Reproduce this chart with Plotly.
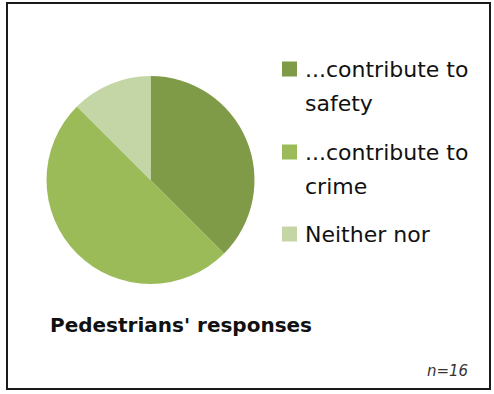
import plotly.graph_objects as go

# Survey answers (n = 16)
labels = ["...contribute to safety", "...contribute to crime", "Neither nor"]
legend_lines = [["...contribute to", "safety"], ["...contribute to", "crime"], ["Neither nor"]]
counts = [6, 8, 2]
colors = ["#7f9b48", "#9bbb59", "#c4d6a6"]
title_text = "Pedestrians' responses"
sample_note = "n=16"

W, H = 494, 394
FONT = "DejaVu Sans, sans-serif"

def px(x):
    return x / W

def py(y):
    return 1 - y / H

fig = go.Figure()
fig.add_trace(go.Pie(
    labels=labels,
    values=counts,
    sort=False,
    direction="clockwise",
    rotation=0,
    marker=dict(colors=colors, line=dict(width=0)),
    textinfo="none",
    hoverinfo="label+value+percent",
    showlegend=False,
    domain=dict(x=[px(46), px(255)], y=[py(284), py(76)]),
))

shapes = [dict(type="rect", xref="paper", yref="paper",
               x0=px(7), x1=px(490), y0=py(389), y1=py(3),
               line=dict(color="#1a1a1a", width=2), fillcolor="rgba(0,0,0,0)")]
annotations = []

# Hand-placed legend: colour square + wrapped label lines
item_tops = [69, 152, 234]
line_gap = 34
for lines, col, y0 in zip(legend_lines, colors, item_tops):
    shapes.append(dict(type="rect", xref="paper", yref="paper",
                       x0=px(282), x1=px(297), y0=py(y0 + 7.5), y1=py(y0 - 7.5),
                       fillcolor=col, line=dict(width=0)))
    for i, ln in enumerate(lines):
        annotations.append(dict(x=px(303), y=py(y0 + i * line_gap), xref="paper", yref="paper",
                                text=ln, showarrow=False, xanchor="left", yanchor="middle",
                                font=dict(family=FONT, size=22, color="#111111")))

annotations.append(dict(x=px(48), y=py(325), xref="paper", yref="paper",
                        text="<b>" + title_text + "</b>", showarrow=False,
                        xanchor="left", yanchor="middle",
                        font=dict(family=FONT, size=20, color="#111111")))
annotations.append(dict(x=px(470), y=py(371), xref="paper", yref="paper",
                        text="<i>" + sample_note + "</i>", showarrow=False,
                        xanchor="right", yanchor="middle",
                        font=dict(family=FONT, size=15, color="#333333")))

fig.update_layout(
    width=W, height=H,
    margin=dict(l=0, r=0, t=0, b=0),
    paper_bgcolor="white",
    plot_bgcolor="white",
    shapes=shapes,
    annotations=annotations,
)

fig.write_html("out.html")
